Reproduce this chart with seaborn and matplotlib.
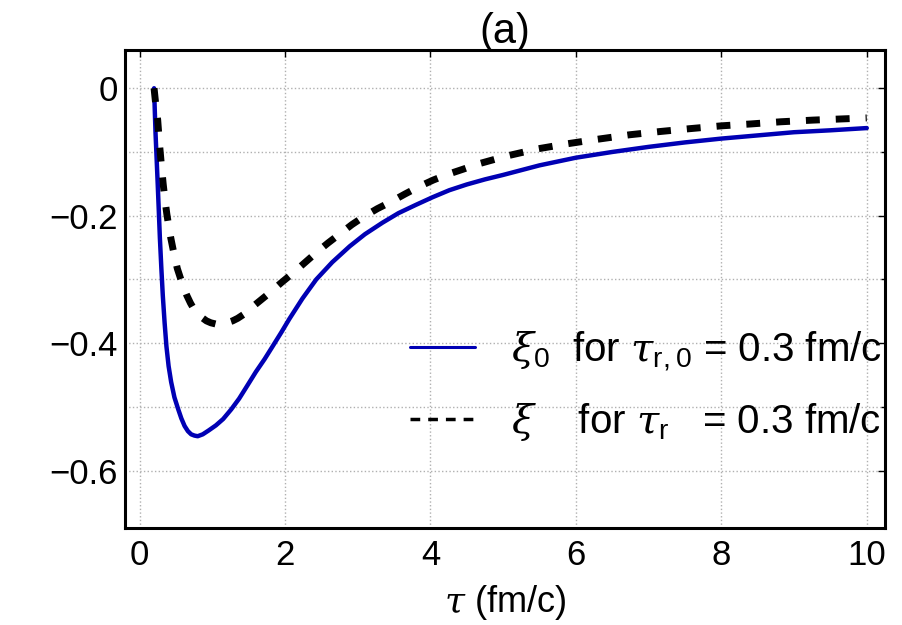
import numpy as np
import pandas as pd
import matplotlib
matplotlib.use("Agg")
import matplotlib.pyplot as plt
import seaborn as sns
from matplotlib.ticker import MultipleLocator

# ---- datos ----
tau_xi0 = [0.20, 0.21, 0.22, 0.235, 0.25, 0.265, 0.28, 0.30, 0.32, 0.345,
           0.37, 0.40, 0.435, 0.48, 0.53, 0.575, 0.62, 0.665, 0.71, 0.755,
           0.80, 0.87, 0.95, 1.05, 1.15, 1.26, 1.37, 1.48, 1.60, 1.72, 1.83,
           1.95, 2.06, 2.24, 2.43, 2.65, 2.89, 3.10, 3.34, 3.56, 3.80, 4.03,
           4.26, 4.50, 4.75, 5.00, 5.50, 6.00, 6.50, 7.00, 7.50, 8.00, 8.50,
           9.00, 9.50, 10.0]
xi0 = [0.000, -0.035, -0.070, -0.110, -0.150, -0.192, -0.235, -0.282, -0.325,
       -0.368, -0.405, -0.436, -0.461, -0.485, -0.503, -0.518, -0.530, -0.538,
       -0.543, -0.545, -0.546, -0.543, -0.537, -0.529, -0.519, -0.504, -0.487,
       -0.467, -0.445, -0.425, -0.405, -0.383, -0.362, -0.330, -0.300, -0.273,
       -0.248, -0.229, -0.211, -0.196, -0.183, -0.171, -0.160, -0.151, -0.143,
       -0.136, -0.121, -0.109, -0.100, -0.092, -0.085, -0.079, -0.074, -0.069,
       -0.066, -0.0625]

tau_xi = [0.20, 0.22, 0.25, 0.275, 0.30, 0.325, 0.35, 0.375, 0.40, 0.43, 0.46,
          0.49, 0.52, 0.56, 0.60, 0.65, 0.70, 0.75, 0.80, 0.86, 0.92, 0.98,
          1.05, 1.12, 1.20, 1.28, 1.35, 1.43, 1.51, 1.65, 1.79, 1.95, 2.11,
          2.27, 2.43, 2.59, 2.75, 2.92, 3.09, 3.27, 3.46, 3.65, 3.85, 4.04,
          4.24, 4.45, 4.65, 5.06, 5.48, 5.89, 6.30, 6.74, 7.15, 7.56, 8.00,
          8.41, 8.82, 9.26, 9.69, 10.0]
xi = [0.000, -0.022, -0.050, -0.088, -0.120, -0.150, -0.175, -0.197, -0.215,
      -0.235, -0.252, -0.268, -0.283, -0.297, -0.310, -0.325, -0.337, -0.347,
      -0.354, -0.360, -0.365, -0.368, -0.370, -0.370, -0.368, -0.365, -0.361,
      -0.355, -0.347, -0.334, -0.321, -0.305, -0.290, -0.274, -0.258, -0.243,
      -0.229, -0.214, -0.201, -0.189, -0.178, -0.166, -0.154, -0.144, -0.135,
      -0.127, -0.119, -0.106, -0.095, -0.087, -0.080, -0.073, -0.068, -0.0635,
      -0.059, -0.056, -0.0526, -0.050, -0.048, -0.0466]

x_ticks = [0, 2, 4, 6, 8, 10]
y_ticks = [0, -0.2, -0.4, -0.6]
y_labels = ['0', '\u22120.2', '\u22120.4', '\u22120.6']

lbl_xi0 = r'$\xi_0$  for $\tau_{\mathrm{r,0}}$ = 0.3 fm/c'
lbl_xi = r'$\xi$    for $\tau_{\mathrm{r}}$   = 0.3 fm/c'

df0 = pd.DataFrame({'tau': tau_xi0, 'val': xi0})
df1 = pd.DataFrame({'tau': tau_xi, 'val': xi})

# ---- estilo ----
sns.set_style("white")
plt.rcParams['font.family'] = ['Liberation Sans', 'DejaVu Sans']
plt.rcParams['mathtext.fontset'] = 'custom'
plt.rcParams['mathtext.rm'] = 'Liberation Sans'
plt.rcParams['mathtext.it'] = 'DejaVu Serif:italic'
plt.rcParams['mathtext.bf'] = 'Liberation Sans:bold'
for k in ['text.color', 'axes.labelcolor', 'xtick.color', 'ytick.color',
          'axes.edgecolor']:
    plt.rcParams[k] = 'black'

fig = plt.figure(figsize=(9.03, 6.25), dpi=100)
ax = fig.add_axes([0.1384, 0.1552, 0.8416, 0.7648])

sns.lineplot(data=df0, x='tau', y='val', ax=ax, color='#0000B4', lw=3.2,
             label=lbl_xi0, sort=False)
sns.lineplot(data=df1, x='tau', y='val', ax=ax, color='black', lw=5,
             label=lbl_xi, sort=False)
ax.lines[1].set_dashes((2.0, 2.3))

ax.set_xlim(-0.2, 10.25)
ax.set_ylim(-0.69, 0.06)
ax.set_xticks(x_ticks)
ax.set_yticks(y_ticks, labels=y_labels)
ax.yaxis.set_minor_locator(MultipleLocator(0.1))

ax.grid(True, which='both', axis='y', ls=':', color='#b0b0b0', lw=1)
ax.grid(True, which='major', axis='x', ls=':', color='#b0b0b0', lw=1)

ax.tick_params(which='both', direction='in', top=True, right=True,
               labelsize=25, width=1)
ax.tick_params(which='major', length=5)
ax.tick_params(axis='x', which='major', pad=8)
ax.tick_params(axis='y', which='major', pad=5)
ax.tick_params(which='minor', length=3)
for s in ax.spines.values():
    s.set_linewidth(2.2)

ax.set_xlabel(r'$\tau$ (fm/c)', fontsize=26, labelpad=8)
ax.set_ylabel('')
ax.set_title('(a)', fontsize=30, pad=5)

leg = ax.legend(loc='lower right', bbox_to_anchor=(1.028, 0.127), frameon=False,
                fontsize=29, handlelength=1.6, handletextpad=0.9,
                labelspacing=0.7, borderaxespad=0.2)
hl = leg.get_lines()
hl[0].set_linewidth(2.2)
hl[1].set_linewidth(2.5)
hl[1].set_dashes((2.8, 2.3))

plt.savefig('out.png', dpi=100)
